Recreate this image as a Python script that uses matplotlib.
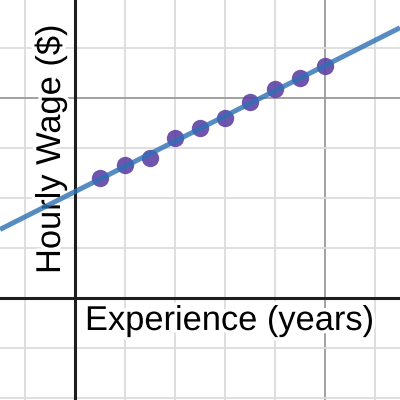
import numpy as np
import matplotlib
matplotlib.use("Agg")
import matplotlib.pyplot as plt
import matplotlib.patheffects as pe

# Data
experience = [1, 2, 3, 4, 5, 6, 7, 8, 9, 10]
wage = [12.0, 13.3, 14.0, 16.0, 17.0, 18.0, 19.6, 20.9, 22.0, 23.2]
x_label = "Experience (years)"
y_label = "Hourly Wage ($)"

xlim = (-3, 13)
ylim = (-10.17, 29.83)

fig = plt.figure(figsize=(4, 4), dpi=100)
ax = fig.add_axes([0, 0, 1, 1])
ax.set_xlim(*xlim)
ax.set_ylim(*ylim)
for s in ax.spines.values():
    s.set_visible(False)
ax.set_xticks([])
ax.set_yticks([])

minor_c = "#dcdcdc"
major_c = "#9a9a9a"
for gx in np.arange(-2, 13, 2):
    if gx == 0:
        continue
    col = major_c if gx % 10 == 0 else minor_c
    ax.axvline(gx, color=col, lw=1.3, zorder=1)
for gy in np.arange(-10, 30, 5):
    if gy == 0:
        continue
    col = major_c if gy % 20 == 0 else minor_c
    ax.axhline(gy, color=col, lw=1.3, zorder=1)
ax.axvline(0, color="#1e1e1e", lw=2.2, zorder=2)
ax.axhline(0, color="#1e1e1e", lw=2.2, zorder=2)

halo = [pe.withStroke(linewidth=5, foreground="white")]
ax.text(85, 400 - 330, x_label, transform=None, fontsize=24.8, family="Liberation Sans",
        ha="left", va="baseline", color="black", zorder=3, path_effects=halo)
ax.text(60, 400 - 274, y_label, transform=None, fontsize=24.8, family="Liberation Sans",
        rotation=90, rotation_mode="anchor", ha="left", va="baseline",
        color="black", zorder=3, path_effects=halo)

# Scatter points
ax.plot(experience, wage, "o", ms=12.5, color="#6042a6", alpha=0.9,
        mec="none", zorder=4)

# Regression line
m, b = np.polyfit(experience, wage, 1)
xs = np.array(xlim)
ax.plot(xs, m * xs + b, color="#2d70b3", alpha=0.8, lw=3.6,
        solid_capstyle="butt", zorder=5)

fig.savefig("out.png", dpi=100)
